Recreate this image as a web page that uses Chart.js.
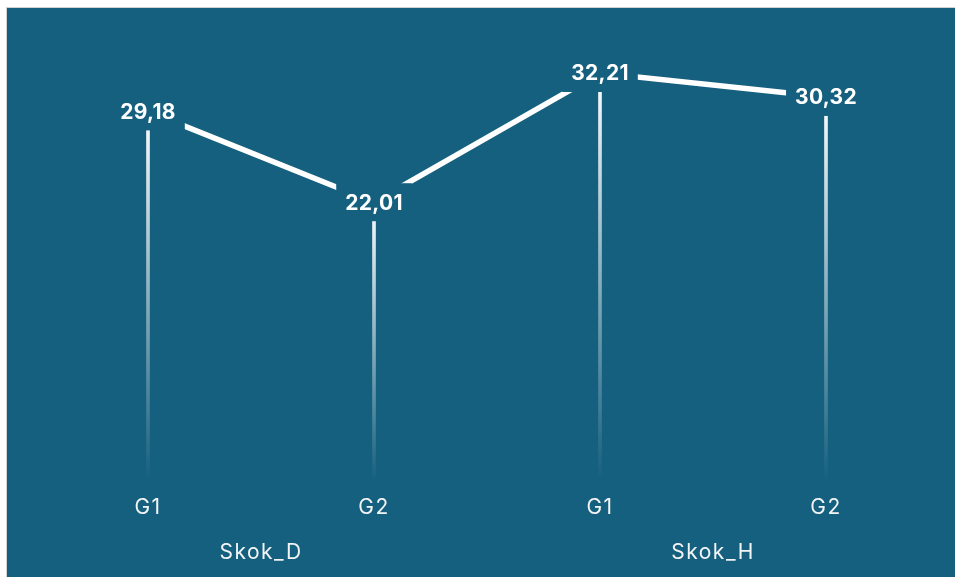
<!DOCTYPE html>
<html>
<head>
<meta charset="utf-8">
<script src="https://cdn.jsdelivr.net/npm/chart.js@4.4.1/dist/chart.umd.min.js"></script>
<style>
  html, body { margin: 0; padding: 0; background: #fff; }
  #wrap {
    position: absolute; left: 6px; top: 7px; width: 949px; height: 570px;
    border-left: 1px solid #cfd3d6; border-top: 1px solid #cfd3d6;
    background: #16607f;
  }
</style>
</head>
<body>
<div id="wrap"><canvas id="chart"></canvas></div>
<script>
// Datos
const groups = ['G1', 'G2', 'G1', 'G2'];
const categories = ['Skok_D', 'Skok_H'];
const values = [29.18, 22.01, 32.21, 30.32];

const bgColor = '#16607f';
const fmt = v => v.toFixed(2).replace('.', ',');

// Espaciado de letras para las etiquetas de los ejes
const tickSpacing = {
  id: 'tickSpacing',
  beforeDraw(chart) { chart.ctx.letterSpacing = '1.5px'; },
  afterDraw(chart) { chart.ctx.letterSpacing = '0px'; }
};

// Etiquetas de valor con fondo que tapa la línea
const valueLabels = {
  id: 'valueLabels',
  afterDatasetsDraw(chart) {
    const ctx = chart.ctx;
    const meta = chart.getDatasetMeta(1);
    ctx.save();
    ctx.letterSpacing = '0.3px';
    ctx.font = 'bold 21px Inter';
    ctx.textAlign = 'center';
    ctx.textBaseline = 'middle';
    meta.data.forEach((pt, i) => {
      const txt = fmt(values[i]);
      const w = ctx.measureText(txt).width + 18;
      ctx.fillStyle = bgColor;
      ctx.fillRect(pt.x - w / 2, pt.y - 19, w, 38);
      ctx.fillStyle = '#ffffff';
      ctx.fillText(txt, pt.x, pt.y + 1);
    });
    ctx.restore();
  }
};

const ctx = document.getElementById('chart').getContext('2d');
new Chart(ctx, {
  data: {
    labels: groups,
    datasets: [
      {
        type: 'bar',
        data: values,
        barThickness: 3,
        backgroundColor: c => {
          const chart = c.chart;
          if (!chart.chartArea) return '#fff';
          const y = chart.scales.y;
          const top = y.getPixelForValue(c.raw);
          const bottom = y.getPixelForValue(0);
          const g = chart.ctx.createLinearGradient(0, top, 0, bottom);
          g.addColorStop(0, 'rgba(255,255,255,1)');
          g.addColorStop(1, 'rgba(255,255,255,0)');
          return g;
        },
        order: 2
      },
      {
        type: 'line',
        data: values,
        borderColor: '#ffffff',
        borderWidth: 5.5,
        pointRadius: 0,
        tension: 0,
        order: 1
      }
    ]
  },
  options: {
    responsive: true,
    maintainAspectRatio: false,
    animation: false,
    layout: { padding: { left: 28, right: 17, top: 17, bottom: 7 } },
    plugins: {
      legend: { display: false },
      tooltip: { enabled: false }
    },
    scales: {
      y: {
        display: false,
        min: 0,
        max: 36
      },
      x: {
        offset: true,
        grid: { display: false, drawTicks: false },
        border: { display: false },
        ticks: {
          color: '#f2f4f5',
          padding: 14.4,
          font: { family: 'Inter', size: 21 }
        }
      },
      x2: {
        type: 'category',
        labels: categories,
        position: 'bottom',
        offset: true,
        grid: { display: false, drawTicks: false },
        border: { display: false },
        ticks: {
          color: '#f2f4f5',
          padding: 5.4,
          font: { family: 'Inter', size: 21 }
        }
      }
    }
  },
  plugins: [tickSpacing, valueLabels]
});
</script>
</body>
</html>
